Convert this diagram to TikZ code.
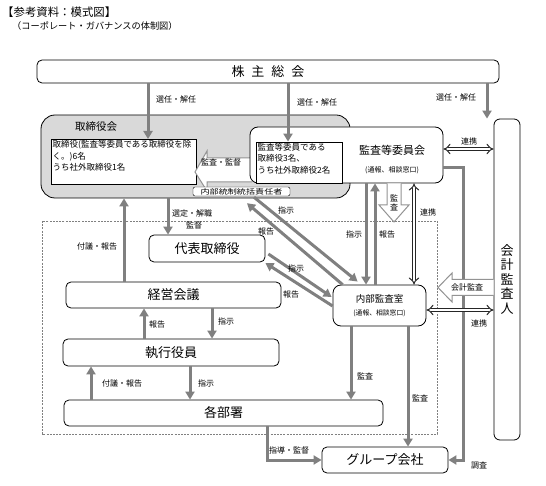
\documentclass[tikz,border=0pt]{standalone}
\usepackage{fontspec}
\setmainfont{Noto Sans CJK JP}
\usetikzlibrary{arrows.meta, calc}

\tikzset{
	box/.style = {draw, line width = 0.8pt, rounded corners = 5pt, fill = white, inner sep = 0pt},
	bigtext/.style = {font = \fontsize{13}{13}\selectfont},
	flow/.style = {draw = gray, line width = 3pt},
	tag/.style = {font = \fontsize{8}{8}\selectfont, inner sep = 0pt},
	link/.style = {draw = black!85, line width = 1pt, double = white, double distance = 2.6pt, {Implies}-{Implies}},
	hollow/.style = {draw = gray!85, fill = white, line width = 1pt, line join = miter},
}

\begin{document}
\begin{tikzpicture}[x = 1pt, y = -1pt, > = {Triangle[length = 8pt, width = 9pt]}]

	\useasboundingbox (0, 0) rectangle (546, 486);

	\node [anchor = west, inner sep = 0pt, font = \fontsize{11.4}{12}\selectfont] (title) at (2, 12) {【参考資料：模式図】};
	\node [anchor = west, inner sep = 0pt, font = \fontsize{9.2}{10}\selectfont] (subtitle) at (12, 26) {（コーポレート・ガバナンスの体制図）};

	\draw [gray, line width = 0.5pt, dash pattern = on 2pt off 1.2pt] (42, 221) rectangle (437, 434);

	% boxes
	\node [box, minimum width = 462pt, minimum height = 23pt, bigtext] (kabu) at (268, 71.5) {株\hspace{7pt}主\hspace{7pt}総\hspace{7pt}会};

	\node [box, fill = gray!30, rounded corners = 14pt, minimum width = 309pt, minimum height = 83pt] (torikai) at (195.5, 156.5) {};
	\node [font = \fontsize{10.5}{11}\selectfont] (torikailabel) at (96, 127) {取締役会};
	\node [draw, fill = white, anchor = north west, inner sep = 1.5pt, font = \fontsize{8.5}{11.5}\selectfont] (torimemb) at (51, 139)
		{\parbox[t][42pt][t]{142pt}{取締役(監査等委員である取締役を除\\く。)6名\\うち社外取締役1名}};

	\draw [hollow] (252, 158) -- (207, 158) -- (207, 151) -- (195, 172) -- (207, 191) -- (207, 182) -- (252, 182);
	\node [tag] (kantoku) at (221, 162.5) {監査・監督};

	\node [box, rounded corners = 8pt, minimum width = 193pt, minimum height = 56pt] (kansa) at (346.5, 155) {};
	\node [draw, fill = white, anchor = south west, inner sep = 1.5pt, font = \fontsize{8.5}{11.5}\selectfont] (kansamemb) at (256, 183)
		{\parbox[t][38pt][t]{83pt}{監査等委員である\\取締役3名、\\うち社外取締役2名}};
	\node [align = center] (kansatext) at (392, 160)
		{{\fontsize{11}{11}\selectfont 監査等委員会}\\[6pt]{\fontsize{7}{7}\selectfont (通報、相談窓口)}};

	\node [draw, fill = white, rounded corners = 2pt, minimum width = 97pt, minimum height = 9pt, inner sep = 0pt, font = \fontsize{7}{7}\selectfont] (naibu) at (241.5, 191.5)
		{\scalebox{1.3}[1]{内部統制統括責任者}};

	\node [box, minimum width = 116pt, minimum height = 27pt, bigtext] (daihyo) at (207, 248.5) {代表取締役};
	\node [box, minimum width = 215pt, minimum height = 26pt, bigtext] (keiei) at (173.5, 295) {経営会議};
	\node [box, minimum width = 216pt, minimum height = 27pt, bigtext] (shikko) at (171, 352.5) {執行役員};
	\node [box, minimum width = 319pt, minimum height = 26pt, bigtext] (kakubu) at (223.5, 413) {各部署};
	\node [box, minimum width = 126pt, minimum height = 26pt, bigtext] (group) at (385, 460) {グループ会社};

	\node [box, rounded corners = 8pt, minimum width = 93pt, minimum height = 41pt, align = center] (naibukansa) at (379.5, 305.5)
		{{\fontsize{9.5}{10}\selectfont 内部監査室}\\[1pt]{\fontsize{6.8}{7}\selectfont (通報、相談窓口)}};

	\node [box, rounded corners = 6pt, minimum width = 26pt, minimum height = 321pt, align = center, font = \fontsize{13}{14.5}\selectfont] (kaikei) at (507, 279.5)
		{会\\計\\監\\査\\人};

	% flows
	\begin{scope}[->, flow]

		\draw (148, 0 |- kabu.south) -- (148, 0 |- torimemb.north);
		\draw (288, 0 |- kabu.south) -- (288, 0 |- kansamemb.north);
		\draw (487, 0 |- kabu.south) -- (487, 0 |- kaikei.north);

		\draw (168, 0 |- torikai.south) -- (168, 0 |- daihyo.north);
		\draw (124, 0 |- keiei.north) -- (124, 0 |- torikai.south);
		\draw (144, 0 |- shikko.north) -- (144, 0 |- keiei.south);
		\draw (212, 0 |- keiei.south) -- (212, 0 |- shikko.north);
		\draw (91, 0 |- kakubu.north) -- (91, 0 |- shikko.south);
		\draw (190, 0 |- shikko.south) -- (190, 0 |- kakubu.north);

		\draw (366, 0 |- kansa.south) -- (366, 0 |- naibukansa.north);
		\draw (375, 0 |- naibukansa.north) -- (375, 0 |- kansa.south);
		\draw (351, 0 |- naibukansa.south) -- (351, 0 |- kakubu.north);
		\draw (408, 0 |- naibukansa.south) -- (408, 0 |- group.north);

		\draw (267, 0 |- kakubu.south) |- (group.west);
		\draw (kansa.east |- 0, 168) -- (463, 168) |- (group.east);

		\draw ($(naibu.south) + (12.5, 1)$) -- ($(naibukansa.north west) + (25, -3)$);
		\draw ($(naibukansa.north west) + (10, 0)$) -- ($(naibu.south) + (5.5, 7)$);
		\draw ($(daihyo.east) + (3, 5.5)$) -- ($(naibukansa.west) + (-1, -8.5)$);
		\draw ($(naibukansa.west) + (0, 0.5)$) -- ($(daihyo.east) + (0, 14.5)$);

	\end{scope}

	% hollow arrows
	\draw [hollow] (387, 0 |- kansa.south) -- (387, 205) -- (379, 205) -- (394, 222) -- (409, 205) -- (401, 205) -- (401, 0 |- kansa.south);
	\node [tag, align = center, font = \fontsize{8}{9}\selectfont] (kansaB) at (394, 203) {監\\査};

	\draw [hollow] (kaikei.west |- 0, 279.5) -- (452, 279.5) -- (452, 273) -- (438, 287.5) -- (452, 302) -- (452, 295.5) -- (kaikei.west |- 0, 295.5);
	\node [tag] (kaikeikansa) at (467, 287.5) {会計監査};

	% links
	\draw [link] (kansa.east |- 0, 149) -- (kaikei.west |- 0, 149);
	\draw [link] (414, 0 |- kansa.south) -- (414, 0 |- naibukansa.north);
	\draw [link] (naibukansa.east |- 0, 310) -- (kaikei.west |- 0, 310);

	% labels
	\node [tag] (sen1) at (176, 99) {選任・解任};
	\node [tag] (sen2) at (317, 102) {選任・解任};
	\node [tag] (sen3) at (456, 97) {選任・解任};
	\node [tag] (sentei) at (192, 213) {選定・解職};
	\node [tag] (kantoku2) at (194, 225) {監督};
	\node [tag] (fugi1) at (97, 246) {付議・報告};
	\node [tag] (shiji1) at (286, 210) {指示};
	\node [tag] (hokoku1) at (266, 231) {報告};
	\node [tag] (shiji2) at (354, 234) {指示};
	\node [tag] (hokoku2) at (387, 234) {報告};
	\node [tag] (renkei1) at (469, 141) {連携};
	\node [tag] (renkei2) at (428, 212) {連携};
	\node [tag] (renkei3) at (479, 323) {連携};
	\node [tag] (shiji3) at (296, 268) {指示};
	\node [tag] (hokoku3) at (291, 294) {報告};
	\node [tag] (hokoku4) at (157, 324) {報告};
	\node [tag] (shiji4) at (226, 321) {指示};
	\node [tag] (fugi2) at (122, 383) {付議・報告};
	\node [tag] (shiji5) at (206, 383) {指示};
	\node [tag] (kansa1) at (365, 376) {監査};
	\node [tag] (kansa2) at (420, 398) {監査};
	\node [tag] (shido) at (289, 450) {指導・監督};
	\node [tag] (chosa) at (479, 465) {調査};

\end{tikzpicture}
\end{document}
